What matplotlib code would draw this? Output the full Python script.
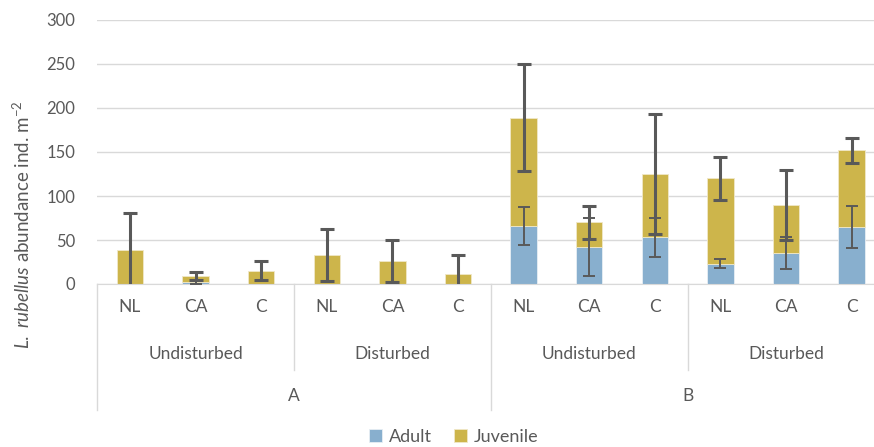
import matplotlib.pyplot as plt
import numpy as np

# data
sites = ['A', 'B']
habitats = ['Undisturbed', 'Disturbed']
treatments = ['NL', 'CA', 'C']

adult = [0, 2.5, 0, 0, 0, 0, 66, 42, 53, 23, 35, 65]
juvenile = [39, 6.5, 15, 33, 26, 11, 123, 28, 72, 97, 55, 87]
adult_err = [0, 2, 0, 0, 0, 0, 22, 33, 22, 5, 18, 24]
juvenile_err = [42, 4.5, 11, 30, 24, 22.5, 61, 19, 68, 24.5, 40, 14]

adult = np.array(adult)
juvenile = np.array(juvenile)
total = adult + juvenile
x = np.arange(len(adult))
labels = treatments * (len(sites) * len(habitats))

c_adult = '#88AFCE'
c_juv = '#CDB54B'
grey = '#595959'
light = '#D9D9D9'

fam = 'Lato'
plt.rcParams['font.family'] = [fam, 'DejaVu Sans']
plt.rcParams['mathtext.fontset'] = 'custom'
plt.rcParams['mathtext.rm'] = fam
plt.rcParams['mathtext.it'] = fam + ':italic'

fig = plt.figure(figsize=(8.74, 4.47), dpi=100)
ax = fig.add_axes([97.2 / 874, 1 - 284 / 447, 787.2 / 874, 264 / 447])

ax.bar(x, adult, 0.4, color=c_adult, edgecolor='#E8EEF4', linewidth=0.6, label='Adult', zorder=2)
ax.bar(x, juvenile, 0.4, bottom=adult, color=c_juv, edgecolor='#F0E8C8', linewidth=0.6, label='Juvenile', zorder=2)

# error bars (juvenile at the top of the stack)
ax.errorbar(x, total, yerr=juvenile_err, fmt='none', ecolor=grey, elinewidth=2.2, capsize=5, capthick=2.2, zorder=3)
m = adult > 0
ax.errorbar(x[m], adult[m], yerr=np.array(adult_err)[m], fmt='none', ecolor=grey, elinewidth=1.4, capsize=4, capthick=1.4, zorder=3)

ax.set_xlim(-0.5, len(x) - 0.5)
ax.set_ylim(0, 300)
ax.set_yticks(np.arange(0, 301, 50))
ax.yaxis.grid(True, color=light, linewidth=1)
ax.set_axisbelow(True)
for s in ['top', 'right', 'left']:
    ax.spines[s].set_visible(False)
ax.spines['bottom'].set_color(light)
ax.tick_params(axis='y', length=0, labelsize=12, labelcolor=grey, pad=16)
ax.set_xticks(x)
ax.set_xticklabels(labels)
ax.tick_params(axis='x', length=0, labelsize=12.5, labelcolor=grey, pad=11)

# multi-level category axis
tr = ax.get_xaxis_transform()
px = 1 / 264
for i, hab in enumerate(habitats * len(sites)):
    ax.text(3 * i + 1, -(354 - 284) * px, hab, transform=tr, ha='center', va='center',
            fontsize=12.5, color=grey)
for i, site in enumerate(sites):
    ax.text(6 * i + 2.5, -(396 - 284) * px, site, transform=tr, ha='center', va='center',
            fontsize=12.5, color=grey)
for b in [2.5, 8.5]:
    ax.plot([b, b], [0, -(370 - 284) * px], transform=tr, color=light, lw=1, clip_on=False)
for b in [-0.5, 5.5, 11.5]:
    ax.plot([b, b], [0, -(410 - 284) * px], transform=tr, color=light, lw=1, clip_on=False)

fig.text(22 / 874, 1 - 225 / 447, r'$\it{L.\ rubellus}$ abundance ind. m$^{-2}$',
         rotation=90, ha='center', va='center', fontsize=13.5, color=grey)

fig.legend(loc='center', bbox_to_anchor=(454 / 874, 1 - 437 / 447), ncol=2, frameon=False,
           fontsize=13, labelcolor=grey, handlelength=0.7, handleheight=0.7,
           handletextpad=0.4, columnspacing=1.2)

fig.savefig('out.png', dpi=100)
